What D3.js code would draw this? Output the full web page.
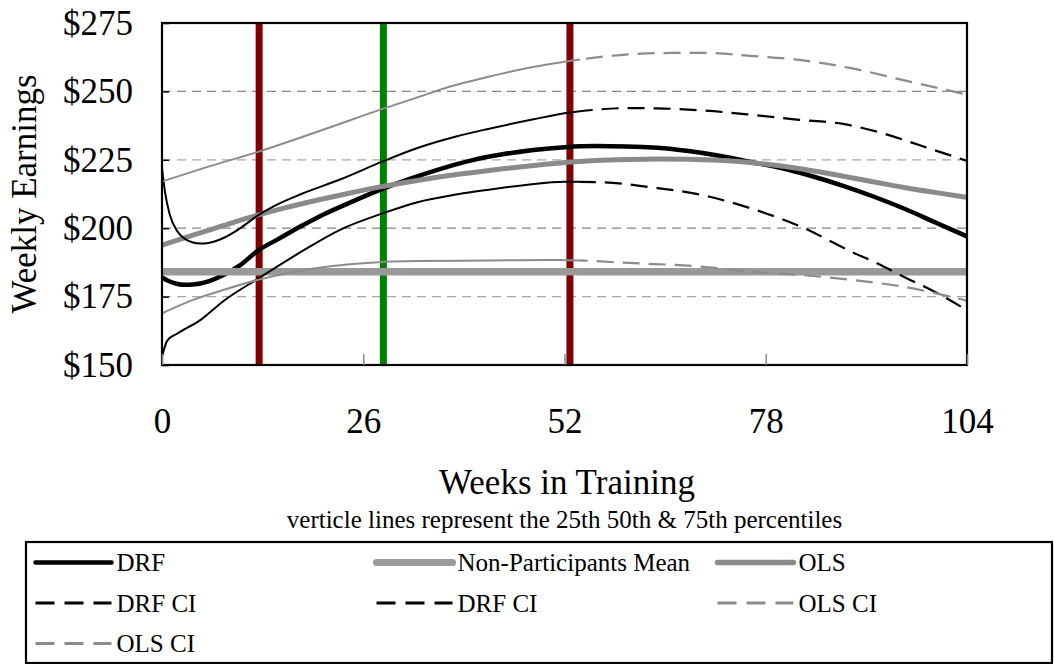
<!DOCTYPE html>
<html>
<head>
<meta charset="utf-8">
<script src="https://cdn.jsdelivr.net/npm/d3@7"></script>
<style>
  body { margin: 0; background: #fff; }
  text { font-family: "Liberation Serif", "Times New Roman", serif; fill: #000; }
</style>
</head>
<body>
<svg id="chart" width="1054" height="664"></svg>
<script>
// tick labels
const weekTicks = [0, 26, 52, 78, 104]
const earningTicks = [150, 175, 200, 225, 250, 275]
const gridLevels = [175, 200, 225, 250]

// series, [week, weekly earnings]
const drf = [[0,182],[1,180.5],[2,179.6],[3,179.3],[4,179.4],[6,180.6],[8,183],[10,186.3],[12.5,192],[15,196],[18,200.8],[21,205.2],[24,209],[28,213.8],[32,218],[36,221.7],[40,224.8],[44,227],[48,228.6],[52,229.6],[56,230],[60,229.9],[64,229.4],[68,228.2],[72,226.5],[76,224.2],[80,222],[84,219],[88,215.5],[92,211.5],[96,207],[100,202],[104,197]]
const drfUpper = [[0,222],[0.4,213],[1,205],[2,198.8],[3,196],[4,194.8],[5,194.4],[6,194.6],[8,196.5],[10,199.8],[12.5,204.9],[15,208.8],[18,212.5],[23,217.8],[28.6,224.5],[33,229.3],[38,233.5],[42,236.2],[48,239.8],[52,242],[56,243.3],[60,243.9],[64,243.8],[70,243],[76,241.5],[82,239.7],[88,238.1],[93,234.8],[98,230.2],[104,224.6]]
const drfLower = [[0,153],[0.7,159],[2,161.5],[5,166.5],[8,173.5],[12.5,181.7],[18,191.4],[23,199.4],[28.6,205.5],[33,209.5],[38,212.3],[42,214],[47,215.8],[52,217],[57,216.8],[63,215],[70,212],[76,207.3],[82.5,200.6],[89,191.5],[92.5,187],[96,182],[100,176.5],[104,170]]
const ols = [[0,193.8],[4,197.5],[8,201],[12,204.5],[16,207.5],[20,210.2],[24,212.7],[28,215],[32,217],[36,218.8],[40,220.3],[44,221.7],[48,222.9],[52,224],[56,224.7],[60,225.1],[64,225.3],[68,225.2],[72,224.8],[76,224],[80,222.7],[84,221],[88,219],[92,216.9],[96,214.8],[100,213],[104,211.3]]
const olsUpper = [[0,217.1],[6,222.5],[12.5,228],[20.8,236],[28.6,243.7],[33,247.8],[37,251.6],[41,254.5],[46,257.8],[52,260.8],[58,263],[64,264],[70,264.1],[76,263],[82,261.6],[89,258.5],[95.5,254.3],[104,248.8]]
const olsLower = [[0,168.9],[4,173.8],[8,177.5],[12.5,181.2],[17,184],[22,186.2],[27,187.4],[33,188],[42,188.2],[51,188.4],[61,187.2],[69.5,186],[76,184.1],[82.5,182.9],[91,180.5],[96,178.5],[100,176.2],[104,173.5]]
const nonPartMean = [[0,184.1],[104,184.1]]

// 25th, 50th, 75th percentile of weeks
const percentileWeeks = [12.55, 28.6, 52.7]
const percentileColors = ['#800000', '#008000', '#800000']

const legendLabels = ['DRF', 'Non-Participants Mean', 'OLS', 'DRF CI', 'DRF CI', 'OLS CI', 'OLS CI']

const svg = d3.select('#chart')
svg.append('rect').attr('width', 1054).attr('height', 664).attr('fill', '#fff')

const x = d3.scaleLinear().domain([0, 104]).range([162, 967])
const y = d3.scaleLinear().domain([150, 275]).range([365, 23])
const line = d3.line().x(d => x(d[0])).y(d => y(d[1])).curve(d3.curveMonotoneX)

// gridlines
svg.append('g')
  .selectAll('line')
  .data(gridLevels)
  .enter()
  .append('line')
  .attr('x1', x(0)).attr('x2', x(104))
  .attr('y1', d => y(d)).attr('y2', d => y(d))
  .attr('stroke', d => d % 50 === 0 ? '#858585' : '#a8a8a8')
  .attr('stroke-width', 1.2)
  .attr('stroke-dasharray', '9,6')

// percentile lines
svg.append('g')
  .selectAll('line')
  .data(percentileWeeks)
  .enter()
  .append('line')
  .attr('x1', d => x(d)).attr('x2', d => x(d))
  .attr('y1', y(150)).attr('y2', y(275))
  .attr('stroke', (d, i) => percentileColors[i])
  .attr('stroke-width', 7)

// clip paths: CI lines look solid on the left, dashed on the right
const splitWeek = 54
const defs = svg.append('defs')
defs.append('clipPath').attr('id', 'leftPart')
  .append('rect').attr('x', 0).attr('y', 0).attr('width', x(splitWeek)).attr('height', 664)
defs.append('clipPath').attr('id', 'rightPart')
  .append('rect').attr('x', x(splitWeek)).attr('y', 0).attr('width', 1054).attr('height', 664)

function drawLine(data, color, width) {
  svg.append('path').datum(data)
    .attr('d', line)
    .attr('fill', 'none')
    .attr('stroke', color)
    .attr('stroke-width', width)
}

function drawCI(data, color) {
  svg.append('path').datum(data)
    .attr('d', line)
    .attr('fill', 'none')
    .attr('stroke', color)
    .attr('stroke-width', 2)
    .attr('clip-path', 'url(#leftPart)')
  svg.append('path').datum(data)
    .attr('d', line)
    .attr('fill', 'none')
    .attr('stroke', color)
    .attr('stroke-width', 2.2)
    .attr('stroke-dasharray', '17,9')
    .attr('clip-path', 'url(#rightPart)')
}

drawLine(drf, '#000', 4.5)
drawLine(nonPartMean, '#999', 7.5)
drawLine(ols, '#8a8a8a', 5)
drawCI(drfUpper, '#000')
drawCI(drfLower, '#000')
drawCI(olsUpper, '#8c8c8c')
drawCI(olsLower, '#8c8c8c')

// frame
svg.append('rect')
  .attr('x', x(0)).attr('y', y(275))
  .attr('width', x(104) - x(0)).attr('height', y(150) - y(275))
  .attr('fill', 'none').attr('stroke', '#000').attr('stroke-width', 2.2)

// axes
const yAxis = svg.append('g')
  .attr('transform', `translate(${x(0)},0)`)
  .call(d3.axisLeft(y).tickValues(earningTicks).tickSize(-7).tickPadding(29).tickFormat(d => '$' + d))
yAxis.select('.domain').remove()
yAxis.selectAll('line').attr('stroke', '#000').attr('stroke-width', 1.5)
yAxis.selectAll('text').style('font-size', '35px').style('font-family', '"Liberation Serif", serif')

const xAxis = svg.append('g')
  .attr('transform', `translate(0,${y(150)})`)
  .call(d3.axisBottom(x).tickValues(weekTicks).tickSize(-11).tickPadding(43))
xAxis.select('.domain').remove()
xAxis.selectAll('line').attr('stroke', '#888').attr('stroke-width', 1.5)
xAxis.selectAll('text').style('font-size', '35px').style('font-family', '"Liberation Serif", serif')

// titles
svg.append('text')
  .attr('x', 567).attr('y', 494)
  .attr('text-anchor', 'middle')
  .style('font-size', '35px')
  .text('Weeks in Training')

svg.append('text')
  .attr('transform', `translate(36,${(y(150) + y(275)) / 2}) rotate(-90)`)
  .attr('text-anchor', 'middle')
  .style('font-size', '35px')
  .text('Weekly Earnings')

svg.append('text')
  .attr('x', 564.5).attr('y', 528)
  .attr('text-anchor', 'middle')
  .style('font-size', '25px')
  .text('verticle lines represent the 25th 50th & 75th percentiles')

// legend
const legendStyles = [
  {color: '#000', width: 4.5, dash: null},
  {color: '#999', width: 7, dash: null},
  {color: '#8a8a8a', width: 5.5, dash: null},
  {color: '#000', width: 3, dash: '19,10'},
  {color: '#000', width: 3, dash: '19,10'},
  {color: '#8c8c8c', width: 3, dash: '19,10'},
  {color: '#8c8c8c', width: 3, dash: '19,10'}
]

svg.append('rect')
  .attr('x', 26).attr('y', 542).attr('width', 1026).attr('height', 121)
  .attr('fill', 'none').attr('stroke', '#000').attr('stroke-width', 2.2)

const items = svg.append('g')
  .selectAll('g')
  .data(legendLabels)
  .enter()
  .append('g')
  .attr('transform', (d, i) => `translate(${35.5 + (i % 3) * 341},${571 + Math.floor(i / 3) * 40.5})`)

items.append('line')
  .attr('x1', 0).attr('x2', 76)
  .attr('y1', -8.5).attr('y2', -8.5)
  .attr('stroke', (d, i) => legendStyles[i].color)
  .attr('stroke-width', (d, i) => legendStyles[i].width)
  .attr('stroke-dasharray', (d, i) => legendStyles[i].dash)
  .attr('stroke-linecap', (d, i) => legendStyles[i].dash ? 'butt' : 'round')

items.append('text')
  .attr('x', 81)
  .style('font-size', '25px')
  .text(d => d)
</script>
</body>
</html>
